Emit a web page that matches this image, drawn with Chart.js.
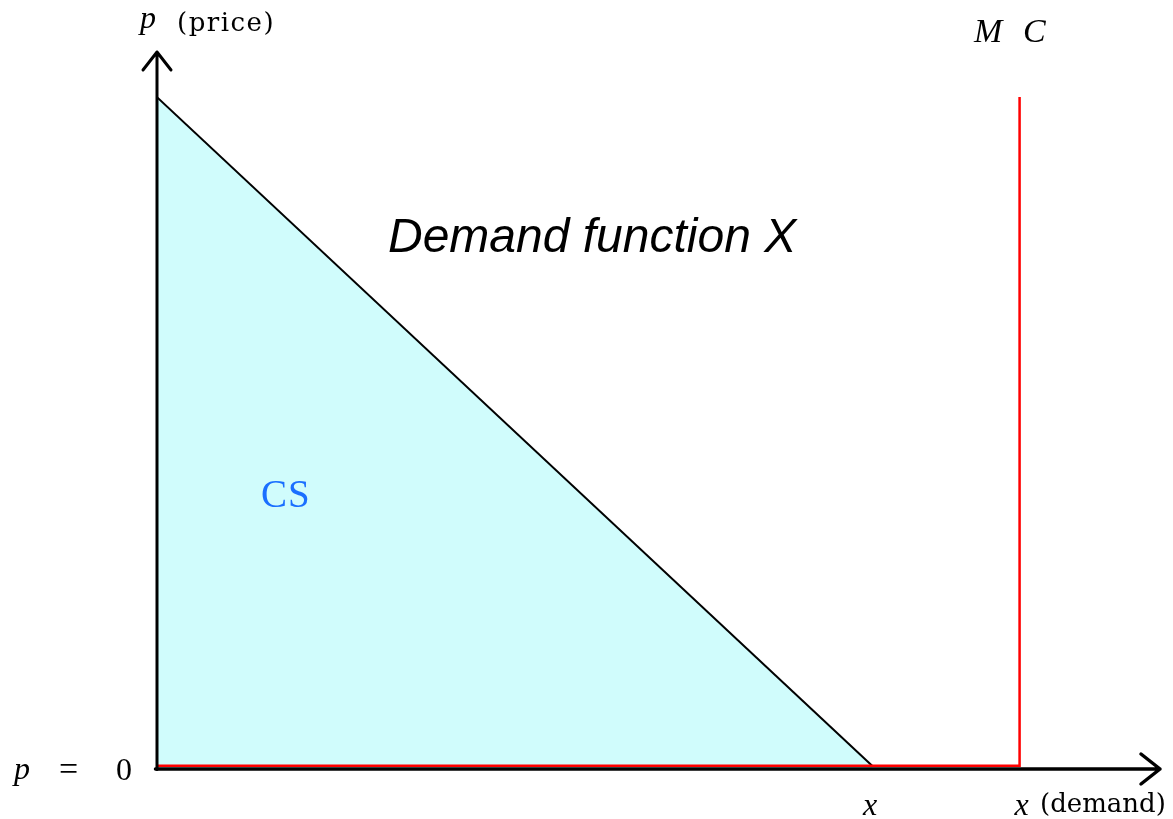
<!DOCTYPE html>
<html>
<head>
<meta charset="utf-8">
<script src="https://cdn.jsdelivr.net/npm/chart.js@4"></script>
<style>
  body { margin:0; background:#fff; }
</style>
</head>
<body>
<canvas id="myChart" width="1173" height="819"></canvas>
<script>
// demand line (p against x)
const demandX = [0, 71.3];
const demandY = [93.7, 0.3];
// marginal cost: flat at p = 0, then vertical
const mcX = [0, 86.0, 86.0];
const mcY = [0.3, 0.3, 93.7];
// labels
const yTickLabel = ['p', '=', '0'];
const xTickLabel = 'x';
const xAxisTitle = ['x', '(demand)'];
const yAxisTitle = ['p', '(price)'];
const mcLabel = ['M', 'C'];
const curveLabel = 'Demand function X';
const areaLabel = 'CS';

function toPoints(xs, ys){
  const pts = [];
  for (let i = 0; i < xs.length; i++) pts.push({x: xs[i], y: ys[i]});
  return pts;
}

// axes with arrows + all the text
const drawExtras = {
  id: 'drawExtras',
  afterDatasetsDraw(chart){
    const ctx = chart.ctx;
    const xs = chart.scales.x, ys = chart.scales.y;
    const x0 = xs.getPixelForValue(0), y0 = ys.getPixelForValue(0);
    const xEnd = xs.getPixelForValue(100), yEnd = ys.getPixelForValue(100);
    ctx.save();
    ctx.strokeStyle = '#000';
    ctx.lineCap = 'round';
    ctx.lineJoin = 'round';
    // y axis
    ctx.lineWidth = 3;
    ctx.beginPath();
    ctx.moveTo(x0, y0 + 1.5); ctx.lineTo(x0, yEnd);
    ctx.moveTo(x0 - 14, yEnd + 18); ctx.lineTo(x0, yEnd); ctx.lineTo(x0 + 14, yEnd + 18);
    ctx.stroke();
    // x axis
    ctx.lineWidth = 3.5;
    ctx.beginPath();
    ctx.moveTo(x0 - 1.5, y0 + 1); ctx.lineTo(xEnd, y0 + 1);
    ctx.moveTo(xEnd - 19, y0 - 14); ctx.lineTo(xEnd, y0 + 1); ctx.lineTo(xEnd - 19, y0 + 16);
    ctx.stroke();

    ctx.fillStyle = '#000';
    ctx.textBaseline = 'alphabetic';
    // y axis title
    ctx.font = 'italic 32px "Liberation Serif"';
    ctx.fillText(yAxisTitle[0], 140, 28);
    ctx.font = '26px "DejaVu Serif"';
    ctx.letterSpacing = '1.5px';
    ctx.fillText(yAxisTitle[1], 177, 31);
    ctx.letterSpacing = '0px';
    // MC
    ctx.font = 'italic 34px "Liberation Serif"';
    ctx.fillText(mcLabel[0], 974, 42);
    ctx.fillText(mcLabel[1], 1023, 42);
    // p = 0
    ctx.font = 'italic 32px "Liberation Serif"';
    ctx.fillText(yTickLabel[0], 14, 779);
    ctx.font = '34px "Liberation Serif"';
    ctx.fillText(yTickLabel[1], 59, 780);
    ctx.font = '32px "Liberation Serif"';
    ctx.fillText(yTickLabel[2], 116, 780);
    // x under the intercept
    ctx.font = 'italic 32px "Liberation Serif"';
    ctx.textAlign = 'center';
    ctx.fillText(xTickLabel, xs.getPixelForValue(demandX[1]) - 2, 815);
    ctx.fillText(xAxisTitle[0], xs.getPixelForValue(mcX[1]) + 2, 815);
    ctx.textAlign = 'left';
    ctx.font = '26px "DejaVu Serif"';
    ctx.fillText(xAxisTitle[1], 1040, 812);
    // curve name
    ctx.font = 'italic 48px "Liberation Sans"';
    ctx.fillText(curveLabel, 388, 252);
    // CS
    ctx.fillStyle = '#1a6fff';
    ctx.font = '39px "Liberation Serif"';
    ctx.letterSpacing = '1px';
    ctx.fillText(areaLabel, 261, 507);
    ctx.restore();
  }
};

const ctx = document.getElementById('myChart').getContext('2d');
const myChart = new Chart(ctx, {
  type: 'scatter',
  data: {
    datasets: [{
      data: toPoints(demandX, demandY),
      showLine: true,
      pointRadius: 0,
      borderColor: '#000',
      borderWidth: 2,
      fill: 'origin',
      backgroundColor: 'rgb(208, 252, 252)',
      order: 2
    }, {
      data: toPoints(mcX, mcY),
      showLine: true,
      pointRadius: 0,
      borderColor: '#ff0000',
      borderWidth: 2.5,
      fill: false,
      order: 1
    }]
  },
  options: {
    responsive: false,
    devicePixelRatio: 1,
    animation: false,
    layout: { padding: { left: 157, right: 13, top: 52, bottom: 51 } },
    scales: {
      x: { type: 'linear', min: 0, max: 100, display: false },
      y: { type: 'linear', min: 0, max: 100, display: false }
    },
    plugins: {
      legend: { display: false },
      tooltip: { enabled: false }
    }
  },
  plugins: [drawExtras]
});
</script>
</body>
</html>
